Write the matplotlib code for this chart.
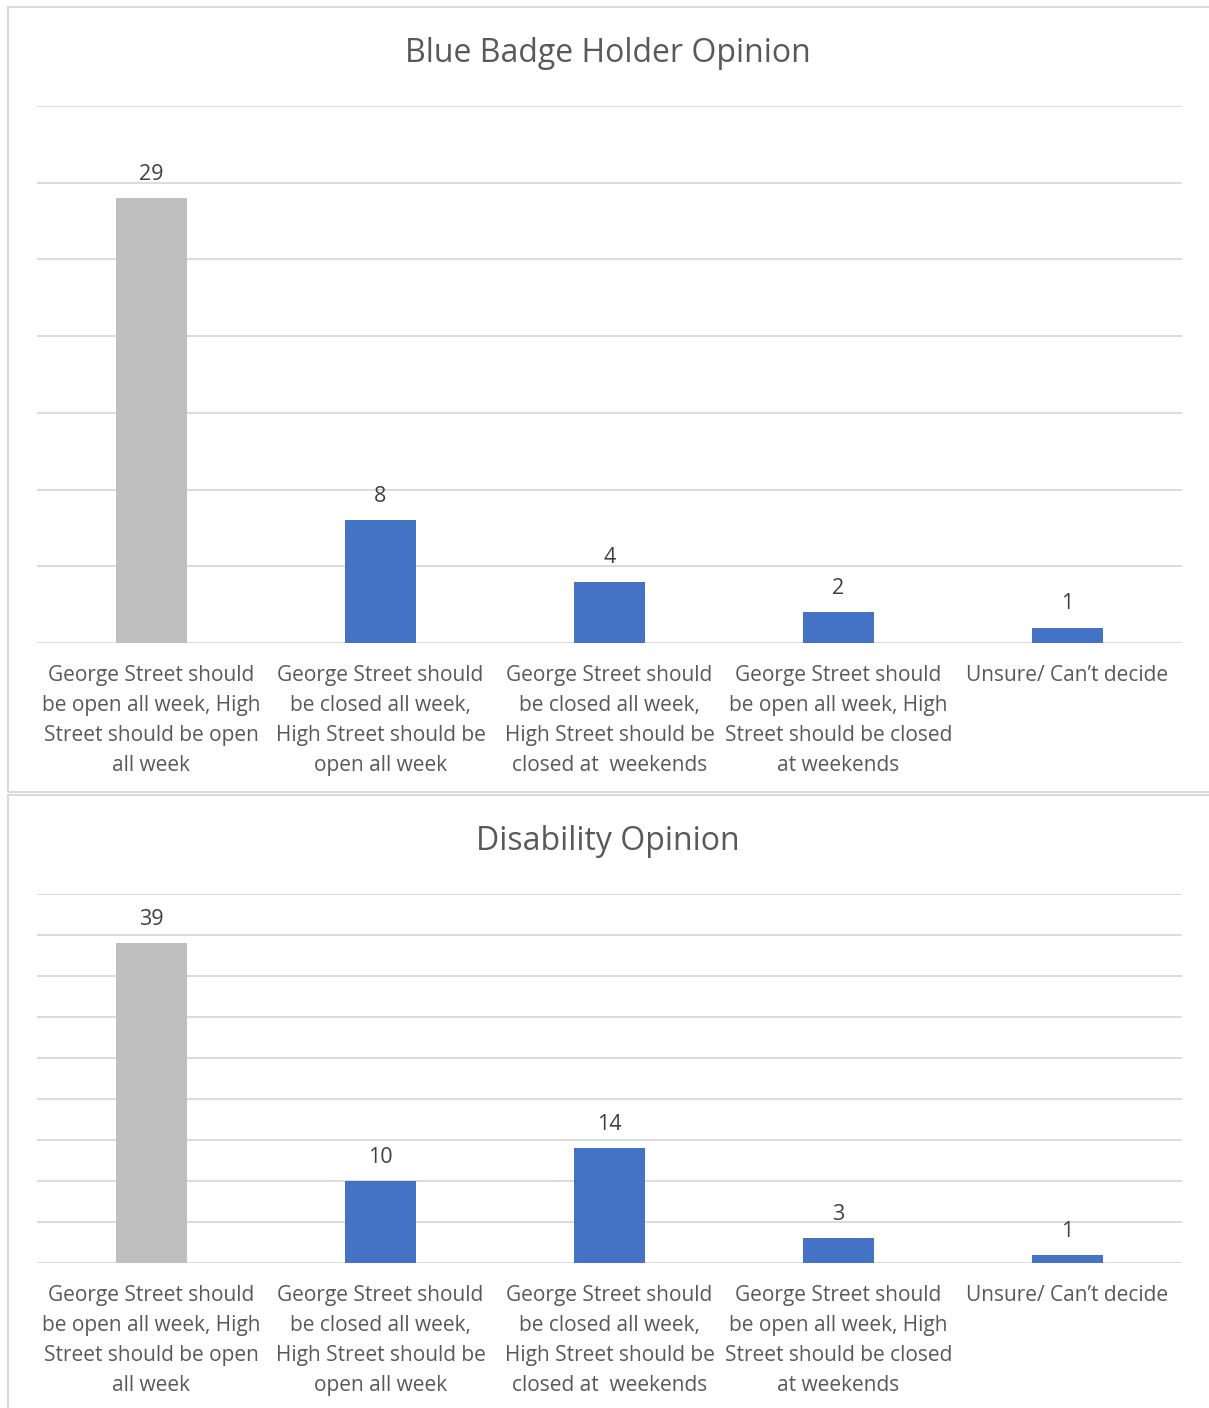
import matplotlib.pyplot as plt
from matplotlib.patches import Rectangle

categories = [
    "George Street should\nbe open all week, High\nStreet should be open\nall week",
    "George Street should\nbe closed all week,\nHigh Street should be\nopen all week",
    "George Street should\nbe closed all week,\nHigh Street should be\nclosed at  weekends",
    "George Street should\nbe open all week, High\nStreet should be closed\nat weekends",
    "Unsure/ Can\u2019t decide",
]
blue_badge_counts = [29, 8, 4, 2, 1]
disability_counts = [39, 10, 14, 3, 1]

GREY = "#BFBFBF"
BLUE = "#4472C4"
TEXT = "#595959"
GRID = "#D9D9D9"

plt.rcParams["font.family"] = ["Open Sans", "DejaVu Sans"]

W, H = 1209, 1408
fig = plt.figure(figsize=(W / 100, H / 100), dpi=100)


def px_axes(x0, y0, x1, y1):
    # pixel box (top-left origin) -> figure fraction
    return fig.add_axes([x0 / W, 1 - y1 / H, (x1 - x0) / W, (y1 - y0) / H])


def draw_chart(ax, counts, title, ymax, title_y):
    colors = [GREY] + [BLUE] * (len(counts) - 1)
    xs = range(len(counts))
    bars = ax.bar(xs, counts, width=0.314, color=colors, zorder=3)
    for b, v in zip(bars, counts):
        ax.annotate(str(v), (b.get_x() + b.get_width() / 2, v),
                    xytext=(0, 9.5), textcoords="offset points",
                    ha="center", va="bottom", fontsize=15.5, color="#404040")
    ax.set_xlim(-0.5, len(counts) - 0.5)
    ax.set_ylim(0, ymax)
    ax.set_yticks(range(0, ymax + 1, 5))
    ax.yaxis.grid(True, color=GRID, linewidth=1.3, zorder=0)
    ax.tick_params(axis="y", length=0, labelleft=False)
    ax.set_xticks(list(xs))
    ax.set_xticklabels(categories, fontsize=15, color=TEXT, linespacing=1.56)
    ax.tick_params(axis="x", length=0, pad=16)
    for s in ax.spines.values():
        s.set_visible(False)
    fig.text(608 / W, 1 - title_y / H, title, ha="center", va="center",
             fontsize=23, color=TEXT)


ax1 = px_axes(37, 106, 1182, 643)
draw_chart(ax1, blue_badge_counts, "Blue Badge Holder Opinion", 35, 53)

ax2 = px_axes(37, 894, 1182, 1263)
draw_chart(ax2, disability_counts, "Disability Opinion", 45, 841)

# chart frames
for y0, y1 in [(7, 792), (795, 1412)]:
    fig.add_artist(Rectangle((7.5 / W, 1 - y1 / H), (1215 - 7.5) / W, (y1 - y0) / H,
                             transform=fig.transFigure, fill=False,
                             edgecolor=GRID, linewidth=1.5))

fig.savefig("out.png", dpi=100, facecolor="white")
